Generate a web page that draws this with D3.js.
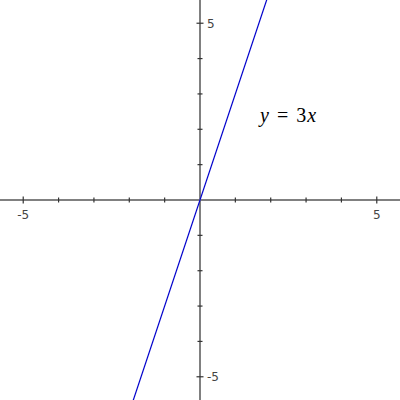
<!DOCTYPE html>
<meta charset="utf-8">
<head>
<script src="https://d3js.org/d3.v7.min.js"></script>
<style>
  body { margin: 0; background: #fff; }
</style>
</head>
<body>
<div id="chart"></div>
<script>

// data
var lineX = [-2, 2];
var lineY = [-6, 6];
var ticks = [-5, -4, -3, -2, -1, 1, 2, 3, 4, 5];
var labeledTicks = [-5, 5];

var width = 400, height = 400;
var lim = 4 * Math.SQRT2;

var x = d3.scaleLinear().domain([-lim, lim]).range([0, width]);
var y = d3.scaleLinear().domain([-lim, lim]).range([height, 0]);

var svg = d3.select("#chart")
  .append("svg")
  .attr("width", width)
  .attr("height", height);

// axes
svg.append("line")
  .attr("x1", 0).attr("x2", width)
  .attr("y1", y(0)).attr("y2", y(0))
  .attr("stroke", "#808080").attr("stroke-width", 2);
svg.append("line")
  .attr("y1", 0).attr("y2", height)
  .attr("x1", x(0)).attr("x2", x(0))
  .attr("stroke", "#808080").attr("stroke-width", 2);

// tick marks
svg.selectAll(".xt").data(ticks).enter().append("line")
  .attr("x1", function(d) { return x(d); })
  .attr("x2", function(d) { return x(d); })
  .attr("y1", function(d) { return y(0) - (Math.abs(d) == 5 ? 3.5 : 2.5); })
  .attr("y2", function(d) { return y(0) + (Math.abs(d) == 5 ? 3.5 : 2.5); })
  .attr("stroke", "#333").attr("stroke-width", 1.2);
svg.selectAll(".yt").data(ticks).enter().append("line")
  .attr("y1", function(d) { return y(d); })
  .attr("y2", function(d) { return y(d); })
  .attr("x1", function(d) { return x(0) - (Math.abs(d) == 5 ? 3.5 : 2.5); })
  .attr("x2", function(d) { return x(0) + (Math.abs(d) == 5 ? 3.5 : 2.5); })
  .attr("stroke", "#333").attr("stroke-width", 1.2);

// tick labels
svg.selectAll(".xl").data(labeledTicks).enter().append("text")
  .attr("x", function(d) { return x(d); })
  .attr("y", y(0) + 19)
  .attr("text-anchor", "middle")
  .style("font-family", "DejaVu Sans, sans-serif")
  .style("font-size", "12px")
  .style("fill", "#444")
  .text(function(d) { return d; });
svg.selectAll(".yl").data(labeledTicks).enter().append("text")
  .attr("x", x(0) + 7)
  .attr("y", function(d) { return y(d) + 4.5; })
  .style("font-family", "DejaVu Sans, sans-serif")
  .style("font-size", "12px")
  .style("fill", "#444")
  .text(function(d) { return d; });

// the line
var line = d3.line()
  .x(function(d, i) { return x(lineX[i]); })
  .y(function(d, i) { return y(lineY[i]); });
svg.append("path")
  .datum(lineX)
  .attr("d", line)
  .attr("fill", "none")
  .attr("stroke", "#0000cc")
  .attr("stroke-width", 1.2);

// formula label
var t = svg.append("text")
  .attr("x", 260).attr("y", 122)
  .style("font-family", "Liberation Serif, DejaVu Serif, serif")
  .style("font-size", "20px")
  .style("fill", "#000");
t.append("tspan").style("font-style", "italic").text("y");
t.append("tspan").attr("dx", 8).attr("transform", "scale(1.3,1)").text("=");
t.append("tspan").attr("dx", 8).text("3");
t.append("tspan").attr("dx", 1).style("font-style", "italic").text("x");

</script>
</body>
